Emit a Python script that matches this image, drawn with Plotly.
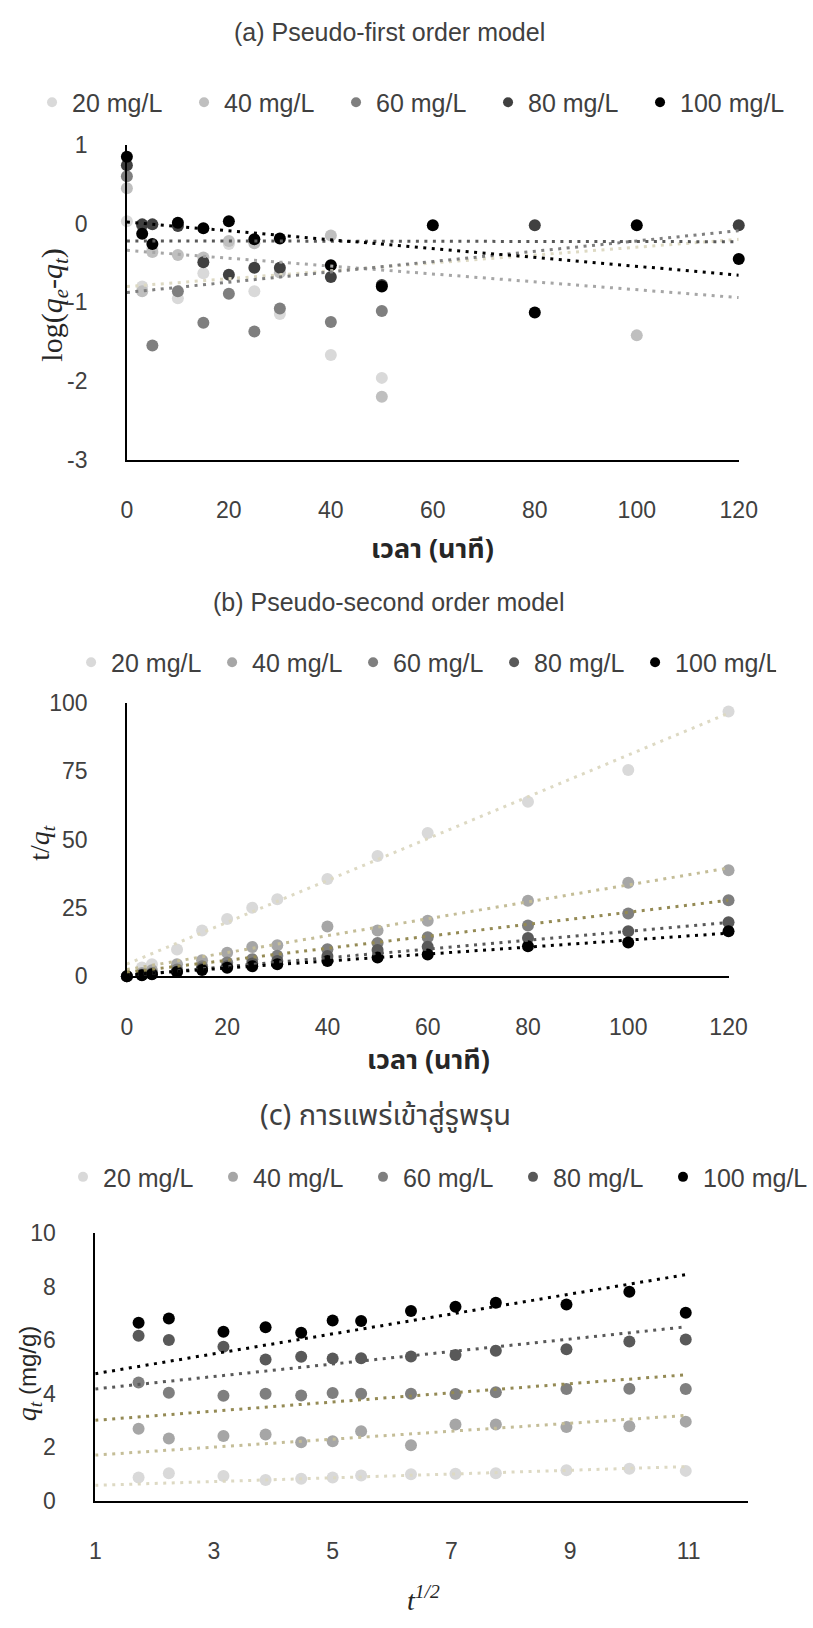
import plotly.graph_objects as go

W, H = 813, 1628

# ---------------- data ----------------
series_names = ["20 mg/L", "40 mg/L", "60 mg/L", "80 mg/L", "100 mg/L"]

# (a) Pseudo-first order: log(qe - qt) vs time (min)
time_a = [0, 3, 5, 10, 15, 20, 25, 30, 40, 50, 60, 80, 100, 120]
loga_20 = [0.03, -0.80, -0.32, -0.95, -0.63, -0.26, -0.86, -1.15, -1.67, -1.96, None, None, None, None]
loga_40 = [0.45, -0.86, -0.36, -0.40, -0.43, -0.22, -0.25, -0.62, -0.15, -2.20, None, None, -1.42, None]
loga_60 = [0.60, -0.02, -1.55, -0.86, -1.26, -0.89, -1.37, -1.08, -1.25, -1.11, None, None, None, None]
loga_80 = [0.74, -0.01, -0.01, -0.03, -0.49, -0.65, -0.56, -0.56, -0.68, -0.78, None, -0.02, None, -0.02]
loga_100 = [0.85, -0.13, -0.26, 0.01, -0.06, 0.03, -0.20, -0.19, -0.53, -0.80, -0.02, -1.13, -0.02, -0.45]
trend_a_t = [0, 120]
trend_a_start = [-0.80, -0.34, -0.875, -0.22, 0.02]
trend_a_end = [-0.20, -0.94, -0.09, -0.23, -0.655]

# (b) Pseudo-second order: t/qt vs time (min)
time_b = [0, 3, 5, 10, 15, 20, 25, 30, 40, 50, 60, 80, 100, 120]
tq_20 = [0, 3.2, 4.4, 9.8, 16.8, 21.0, 25.1, 28.2, 35.6, 44.0, 52.4, 63.8, 75.4, 96.8]
tq_40 = [0, 1.2, 2.2, 4.4, 5.9, 8.6, 10.7, 11.4, 18.2, 16.8, 20.3, 27.6, 34.2, 38.8]
tq_60 = [0, 0.7, 1.2, 2.5, 3.7, 5.1, 6.3, 7.5, 9.9, 12.2, 14.3, 18.6, 23.0, 27.8]
tq_80 = [0, 0.49, 0.83, 1.74, 2.84, 3.72, 4.7, 5.63, 7.4, 9.6, 10.8, 14.0, 16.5, 19.8]
tq_100 = [0, 0.45, 0.73, 1.58, 2.31, 3.18, 3.71, 4.46, 5.64, 6.9, 8.0, 11.0, 12.4, 16.5]
trend_b_t = [0, 120]
trend_b_start = [4.5, 2.5, 1.5, 0.3, 0.5]
trend_b_end = [96.2, 39.6, 27.8, 19.7, 15.8]

# (c) Intraparticle diffusion: qt (mg/g) vs t^1/2
sqrt_t = [1.73, 2.24, 3.16, 3.87, 4.47, 5.00, 5.48, 6.32, 7.07, 7.75, 8.94, 10.00, 10.95]
q_20 = [0.87, 1.03, 0.93, 0.78, 0.83, 0.87, 0.95, 0.99, 1.01, 1.03, 1.14, 1.20, 1.12]
q_40 = [2.69, 2.33, 2.42, 2.48, 2.19, 2.23, 2.60, 2.08, 2.85, 2.85, 2.76, 2.79, 2.96]
q_60 = [4.42, 4.04, 3.93, 4.00, 3.94, 4.03, 4.00, 4.00, 3.99, 4.06, 4.18, 4.19, 4.18]
q_80 = [6.17, 6.01, 5.76, 5.28, 5.38, 5.32, 5.33, 5.39, 5.45, 5.61, 5.66, 5.95, 6.03]
q_100 = [6.65, 6.81, 6.32, 6.49, 6.28, 6.74, 6.72, 7.09, 7.25, 7.40, 7.34, 7.81, 7.03]
trend_c_x = [1, 10.95]
trend_c_start = [0.58, 1.71, 3.01, 4.18, 4.75]
trend_c_end = [1.28, 3.19, 4.71, 6.50, 8.45]

ticks_time = [0, 20, 40, 60, 80, 100, 120]
ticks_a_y = [-3, -2, -1, 0, 1]
ticks_a_y_text = ["-3", "-2", "-1", "0", "1"]
ticks_b_y = [0, 25, 50, 75, 100]
ticks_c_x = [1, 3, 5, 7, 9, 11]
ticks_c_y = [0, 2, 4, 6, 8, 10]

# ---------------- styles ----------------
marker_colors_a = ["#d9d9d9", "#bfbfbf", "#7f7f7f", "#404040", "#000000"]
marker_colors_bc = ["#d9d9d9", "#a6a6a6", "#7f7f7f", "#595959", "#000000"]
trend_colors_a = ["#ddd9c3", "#a6a6a6", "#7f7f7f", "#595959", "#000000"]
trend_colors_bc = ["#ddd9c3", "#c4bd97", "#948a54", "#595959", "#000000"]

SANS = "Liberation Sans, Arial, sans-serif"
SERIF = "Liberation Serif, Times New Roman, serif"
THAI = "Noto Sans Thai, Leelawadee UI, Tahoma, Noto Sans, sans-serif"
TXT = "#404040"
MS = 12
DOT = "3px,5.5px"

fig = go.Figure()

panels = [
    dict(xa="x", ya="y", leg="legend", x=time_a,
         ys=[loga_20, loga_40, loga_60, loga_80, loga_100],
         mc=marker_colors_a, tc=trend_colors_a,
         tx=trend_a_t, ts=trend_a_start, te=trend_a_end),
    dict(xa="x2", ya="y2", leg="legend2", x=time_b,
         ys=[tq_20, tq_40, tq_60, tq_80, tq_100],
         mc=marker_colors_bc, tc=trend_colors_bc,
         tx=trend_b_t, ts=trend_b_start, te=trend_b_end),
    dict(xa="x3", ya="y3", leg="legend3", x=sqrt_t,
         ys=[q_20, q_40, q_60, q_80, q_100],
         mc=marker_colors_bc, tc=trend_colors_bc,
         tx=trend_c_x, ts=trend_c_start, te=trend_c_end),
]

for p in panels:
    for i, name in enumerate(series_names):
        fig.add_trace(go.Scatter(
            x=p["x"], y=p["ys"][i], mode="markers", name=name,
            marker=dict(size=MS, color=p["mc"][i], line=dict(width=0)),
            xaxis=p["xa"], yaxis=p["ya"], showlegend=False, cliponaxis=False,
            hoverinfo="skip"))
    for i, name in enumerate(series_names):
        fig.add_trace(go.Scatter(
            x=p["tx"], y=[p["ts"][i], p["te"][i]], mode="lines",
            line=dict(color=p["tc"][i], width=3, dash=DOT),
            xaxis=p["xa"], yaxis=p["ya"], showlegend=False, cliponaxis=False,
            hoverinfo="skip"))
    # legend entries (smaller symbols, as in the reference legend)
    for i, name in enumerate(series_names):
        fig.add_trace(go.Scatter(
            x=[None], y=[None], mode="markers", name=name,
            marker=dict(size=10, color=p["mc"][i]),
            xaxis=p["xa"], yaxis=p["ya"], legend=p["leg"], showlegend=True))

axis_common = dict(showgrid=False, zeroline=False, showline=True,
                   linecolor="#000000", linewidth=1.5, ticks="",
                   tickfont=dict(family=SANS, size=23, color=TXT))

fig.update_layout(
    width=W, height=H, margin=dict(l=0, r=0, t=0, b=0),
    paper_bgcolor="white", plot_bgcolor="white",
    xaxis=dict(domain=[130 / W, 788 / W], range=[0, 120], tickvals=ticks_time,
               anchor="y", ticklabelstandoff=29, **axis_common),
    yaxis=dict(domain=[1 - 454 / H, 1 - 134 / H], range=[-3, 1], tickvals=ticks_a_y,
               ticktext=ticks_a_y_text, anchor="x", ticklabelstandoff=33, **axis_common),
    xaxis2=dict(domain=[130 / W, 777 / W], range=[0, 120], tickvals=ticks_time,
                anchor="y2", ticklabelstandoff=29, **axis_common),
    yaxis2=dict(domain=[1 - 979 / H, 1 - 701 / H], range=[0, 100], tickvals=ticks_b_y,
                anchor="x2", ticklabelstandoff=33, **axis_common),
    xaxis3=dict(domain=[96 / W, 798 / W], range=[1, 12], tickvals=ticks_c_x,
                anchor="y3", ticklabelstandoff=29, **axis_common),
    yaxis3=dict(domain=[1 - 1512 / H, 1 - 1240 / H], range=[0, 10], tickvals=ticks_c_y,
                anchor="x3", ticklabelstandoff=33, **axis_common),
)

leg_common = dict(orientation="h", xanchor="left", yanchor="middle",
                  bgcolor="rgba(0,0,0,0)", font=dict(family=SANS, size=25, color=TXT),
                  entrywidthmode="pixels", itemclick=False, itemdoubleclick=False)
fig.update_layout(
    legend=dict(x=28 / W, y=1 - 91 / H, entrywidth=107, **leg_common),
    legend2=dict(x=70 / W, y=1 - 660 / H, entrywidth=96, **leg_common),
    legend3=dict(x=62 / W, y=1 - 1183 / H, entrywidth=105, **leg_common),
)

ann = []
def add_text(text, x, y, size, family, angle=0, color=TXT):
    ann.append(dict(text=text, x=x / W, y=1 - y / H, xref="paper", yref="paper",
                    showarrow=False, xanchor="center", yanchor="middle",
                    textangle=angle, font=dict(family=family, size=size, color=color)))

add_text("(a) Pseudo-first order model", 412, 19, 25, SANS)
add_text("(b) Pseudo-second order model", 412, 599, 25, SANS)
add_text("(c) การแพร่เข้าสู่รูพรุน", 408, 1121, 29, THAI)

add_text("<b>เวลา (นาที)</b>", 459, 545, 27, THAI, color="#262626")
add_text("<b>เวลา (นาที)</b>", 454, 1064, 27, THAI, color="#262626")
add_text("<i>t</i><sup><i>1/2</i></sup>", 449, 1611, 28, SERIF, color="#262626")

add_text("log(<i>q</i><sub><i>e</i></sub>-<i>q</i><sub><i>t</i></sub>)", 52, 296, 30, SERIF, -90, "#262626")
add_text("t/<i>q</i><sub><i>t</i></sub>", 38, 843, 28, SERIF, -90, "#262626")
add_text("<i>q</i><sub><i>t</i></sub><span style=\"font-family:Liberation Sans, Arial, sans-serif;font-size:24px\"> (mg/g)</span>",
         25, 1383, 28, SERIF, -90, "#262626")

fig.update_layout(annotations=ann)

fig.write_html("out.html", post_script="document.body.style.margin='0px';")
